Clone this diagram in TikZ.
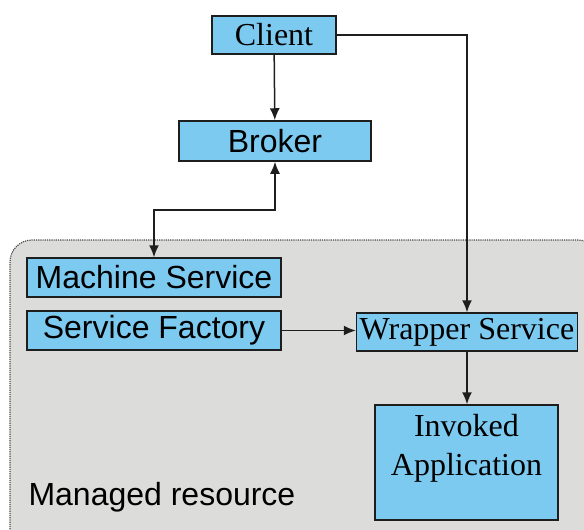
\documentclass[tikz,border=0pt]{standalone}
\usepackage{fontspec}
\setmainfont{Liberation Serif}
\setsansfont{Liberation Sans}
\usepackage{tikz}
\usetikzlibrary{arrows.meta,positioning}
\usepackage{xcolor}
\definecolor{boxblue}{RGB}{125,202,240}
\definecolor{resource}{RGB}{220,220,218}
\definecolor{edge}{RGB}{30,30,30}

\begin{document}
\begin{tikzpicture}[
            x = 1pt, y = -1pt,
            box/.style = {draw = edge, fill = boxblue, line width = 1.5pt, inner sep = 0pt},
            sans/.style = {font = \sffamily\fontsize{32}{39}\selectfont},
            serif/.style = {font = \rmfamily\fontsize{32}{39}\selectfont},
            link/.style = {draw = edge, line width = 1.5pt, -{Latex[length=12pt,width=10pt]}}
            ]
            \useasboundingbox (0,0) rectangle (584,530);
            \begin{scope}
                \clip (0,0) rectangle (584,530);
                \draw[fill = resource, draw = edge!80, densely dotted, line width = 1.2pt, rounded corners = 22pt]
                    (10,240) rectangle (600,560);
            \end{scope}
            \node[sans, anchor = base west] (managed) at (25,505) {Managed resource};

            \node[box, serif, minimum width = 124, minimum height = 38] (client) at (274,35) {Client};
            \node[box, sans, minimum width = 192, minimum height = 40] (broker) at (275,141) {Broker};
            \node[box, sans, minimum width = 254, minimum height = 39] (machine) at (154,277.5) {Machine Service};
            \node[box, sans, minimum width = 254, minimum height = 39] (factory) at (154,330.5) {Service Factory};
            \node[box, serif, minimum width = 221, minimum height = 38] (wrapper) at (467,332) {Wrapper Service};
            \node[box, minimum width = 183, minimum height = 115] (invoked) at (466.5,462.5) {};
            \node[serif, align = center, inner sep = 0pt, below = 10pt of invoked.north] (invokedtext) {Invoked\\Application};

            \draw[link] (client) -- (broker);
            \draw[link] (client.east) -| (wrapper.north);
            \draw[link, {Latex[length=12pt,width=10pt]}-{Latex[length=12pt,width=10pt]}]
                (broker.south) -- ++(0,48) -| (machine.north);
            \draw[link] (factory.east) -- (factory.east -| wrapper.west);
            \draw[link] (wrapper.south) -- (wrapper.south |- invoked.north);
        \end{tikzpicture}
\end{document}
